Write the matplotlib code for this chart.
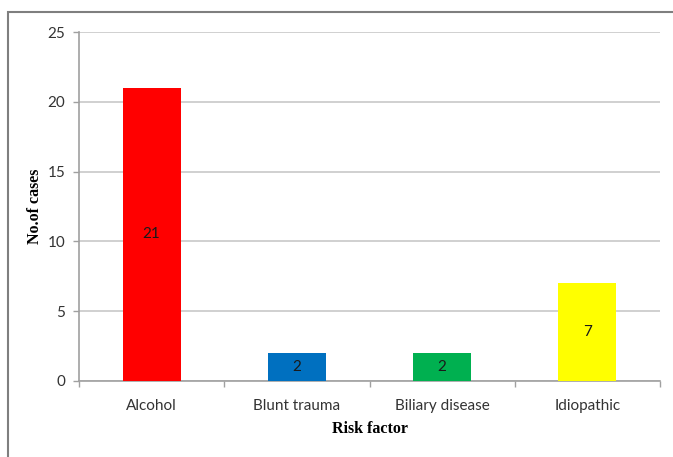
import matplotlib
matplotlib.use("Agg")
import matplotlib.pyplot as plt
from matplotlib.patches import Rectangle
import numpy as np

# Risk factors and number of cases
categories = ['Alcohol', 'Blunt trauma', 'Biliary disease', 'Idiopathic']
cases = [21, 2, 2, 7]
colors = ['#ff0000', '#0070c0', '#00b050', '#ffff00']
y_ticks = [0, 5, 10, 15, 20, 25]

tick_font = 'Lato'
label_font = 'Liberation Serif'

fig = plt.figure(figsize=(6.73, 4.57), dpi=100)
ax = fig.add_axes([79 / 673, 1 - 381 / 457, (660 - 79) / 673, (381 - 32) / 457])

x = np.arange(len(categories))
bars = ax.bar(x, cases, width=0.4, color=colors, zorder=3)

for rect, val in zip(bars, cases):
    ax.text(rect.get_x() + rect.get_width() / 2, val / 2, str(val),
            ha='center', va='center', fontsize=11, family=tick_font,
            color='#1a1a1a', zorder=4)

ax.set_xlim(-0.5, len(categories) - 0.5)
ax.set_ylim(0, 25)
ax.set_yticks(y_ticks)
ax.set_yticklabels([str(t) for t in y_ticks], fontsize=11, family=tick_font,
                   color='#333333')
ax.yaxis.grid(True, color='#c8c8c8', linewidth=1.2, zorder=0)

# category ticks sit on the boundaries between bars
ax.set_xticks(np.arange(-0.5, len(categories), 1.0))
ax.set_xticklabels([])
ax.set_xticks(x, minor=True)
ax.set_xticklabels(categories, minor=True, fontsize=11, family=tick_font,
                   color='#333333')
ax.tick_params(axis='x', which='minor', length=0, pad=13)
ax.tick_params(axis='x', which='major', length=4, color='#a0a0a0', width=1)
ax.tick_params(axis='y', length=4, color='#a0a0a0', width=1, pad=6)

for side in ['top', 'right']:
    ax.spines[side].set_visible(False)
for side in ['left', 'bottom']:
    ax.spines[side].set_color('#a0a0a0')
    ax.spines[side].set_linewidth(1.2)

ax.set_xlabel('Risk factor', fontsize=11.5, fontweight='bold', family=label_font,
              labelpad=6)
ax.set_ylabel('No.of cases', fontsize=11.5, fontweight='bold', family=label_font)
ax.yaxis.set_label_coords(-36 / 581, 0.5)

# outer frame around the chart
fig.add_artist(Rectangle((8 / 673, -0.2), 1.2, 1.2 - 12 / 457,
                         transform=fig.transFigure, fill=False,
                         edgecolor='#7f7f7f', linewidth=1.5))

fig.savefig('out.png', dpi=100)
